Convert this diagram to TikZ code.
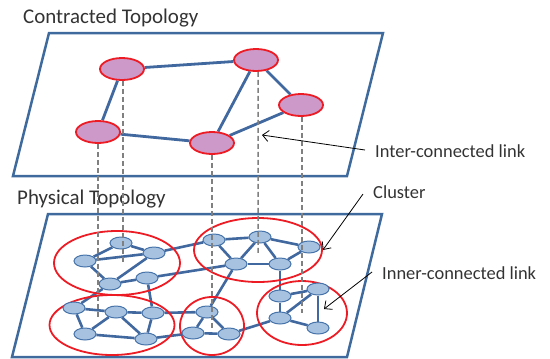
\documentclass[tikz,border=0pt]{standalone}
\usepackage{fontspec}
\setmainfont{Carlito}
\usetikzlibrary{arrows.meta,shapes.geometric}
\definecolor{planeblue}{RGB}{62,106,158}
\definecolor{edgeblue}{RGB}{65,105,160}
\definecolor{nodeblue}{RGB}{167,194,224}
\definecolor{nodeborder}{RGB}{70,115,170}
\definecolor{plum}{RGB}{205,153,200}
\definecolor{redc}{RGB}{237,28,36}
\definecolor{dashgray}{RGB}{128,128,128}
\pgfdeclarelayer{planes}
\pgfdeclarelayer{edges}
\pgfsetlayers{planes,edges,main}
\begin{document}
\begin{tikzpicture}[x=1bp,y=-1bp,
 plane/.style={draw=planeblue, line width=2.5bp, line join=miter},
 topnode/.style={ellipse, draw=redc, fill=plum, line width=1.8bp, minimum width=44bp, minimum height=22bp, inner sep=0},
 botnode/.style={ellipse, draw=nodeborder, fill=nodeblue, line width=1bp, minimum width=22bp, minimum height=12bp, inner sep=0},
 cluster/.style={ellipse, draw=redc, line width=1.8bp, inner sep=0},
 topedge/.style={draw=edgeblue, line width=2.8bp},
 botedge/.style={draw=edgeblue, line width=2.6bp},
 proj/.style={draw=dashgray, line width=1.5bp, dash pattern=on 5bp off 3bp},
 callout/.style={draw=black, line width=0.8bp, -{Straight Barb[length=6bp,width=11bp]}},
 title/.style={anchor=base west, inner sep=0, font=\fontsize{21}{25}\selectfont, text=black!80},
 label/.style={anchor=base west, inner sep=0, font=\fontsize{18.5}{22}\selectfont, text=black!80}]
\useasboundingbox (0,0) rectangle (550,358);

% planes
\begin{pgfonlayer}{planes}
\draw[plane] (49,33) -- (383,33) -- (347,176) -- (13,176) -- cycle;
\draw[plane] (48,214) -- (382,214) -- (347,357) -- (12,357) -- cycle;
\end{pgfonlayer}

% titles and labels
\node[title] (tContr) at (23,23) {Contracted Topology};
\node[title] (tPhys) at (17,204) {Physical Topology};
\node[label] (tInter) at (375,157) {Inter-connected link};
\node[label] (tCluster) at (373,198) {Cluster};
\node[label] (tInner) at (382,279) {Inner-connected link};

% clusters
\node[cluster, minimum width=126bp, minimum height=64bp] (c1) at (117,263) {};
\node[cluster, minimum width=128bp, minimum height=64bp] (c2) at (258,250) {};
\node[cluster, minimum width=125bp, minimum height=60bp] (c3) at (112,325) {};
\node[cluster, minimum width=64bp, minimum height=58bp] (c4) at (212,326) {};
\node[cluster, minimum width=90bp, minimum height=64bp] (c5) at (302,313) {};

% bottom nodes
\node[botnode] (n1) at (121,243) {};
\node[botnode] (n2) at (154,253) {};
\node[botnode] (n3) at (85,261) {};
\node[botnode] (n4) at (110,284) {};
\node[botnode] (n5) at (147,278) {};
\node[botnode] (m1) at (214,240) {};
\node[botnode] (m2) at (260,237) {};
\node[botnode] (m3) at (309,247) {};
\node[botnode] (m4) at (236,264) {};
\node[botnode] (m5) at (280,264) {};
\node[botnode] (p1) at (74,308) {};
\node[botnode] (p2) at (116,312) {};
\node[botnode] (p3) at (153,313) {};
\node[botnode] (p4) at (85,334) {};
\node[botnode] (p5) at (146,339) {};
\node[botnode] (q1) at (207,312) {};
\node[botnode] (q2) at (193,333) {};
\node[botnode] (q3) at (229,334) {};
\node[botnode] (r1) at (280,296) {};
\node[botnode] (r2) at (318,289) {};
\node[botnode] (r3) at (280,318) {};
\node[botnode] (r4) at (318,328) {};

% top nodes
\node[topnode] (A) at (122,69) {};
\node[topnode] (B) at (256,60) {};
\node[topnode] (C) at (301,105) {};
\node[topnode] (D) at (98,132) {};
\node[topnode] (E) at (212,143) {};

% edges
\begin{pgfonlayer}{edges}
\draw[topedge] (A) -- (B);
\draw[topedge] (A) -- (D);
\draw[topedge] (D) -- (E);
\draw[topedge] (E) -- (B);
\draw[topedge] (B) -- (C);
\draw[topedge] (C) -- (E);
\foreach \a/\b in {n1/n2,n1/n3,n3/n2,n3/n4,n4/n2,n4/n5,n2/m1,n5/m4,n4/p1,n5/p3,
  m1/m2,m2/m3,m1/m4,m2/m4,m2/m5,m4/m5,m5/m3,m5/r1,m4/q1,
  p1/p2,p2/p3,p1/p4,p2/p4,p2/p5,p3/p5,p4/p5,p3/q1,p5/q2,
  q1/q2,q1/q3,q2/q3,q3/r3,
  r1/r2,r1/r3,r3/r2,r2/r4,r3/r4}
  \draw[botedge] (\a) -- (\b);
\end{pgfonlayer}

% projections
\coordinate (dD) at (98,317);
\coordinate (dA) at (123,262);
\coordinate (dE) at (212,328);
\coordinate (dB) at (258,253);
\coordinate (dC) at (302,313);
\draw[proj] (D.south) -- (dD);
\draw[proj] ([xshift=1bp]A.south) -- (dA);
\draw[proj] (E.south) -- (dE);
\draw[proj] ([xshift=2bp]B.south) -- (dB);
\draw[proj] ([xshift=1bp]C.south) -- (dC);

% callouts
\coordinate (iS) at (365,150);
\coordinate (iT) at (262,135);
\coordinate (cS) at (363,194);
\coordinate (nS) at (372,272);
\coordinate (nT) at (324,309);
\draw[callout] (iS) -- (iT);
\draw[callout] (cS) -- (c2.east);
\draw[callout] (nS) -- (nT);
\end{tikzpicture}
\end{document}
